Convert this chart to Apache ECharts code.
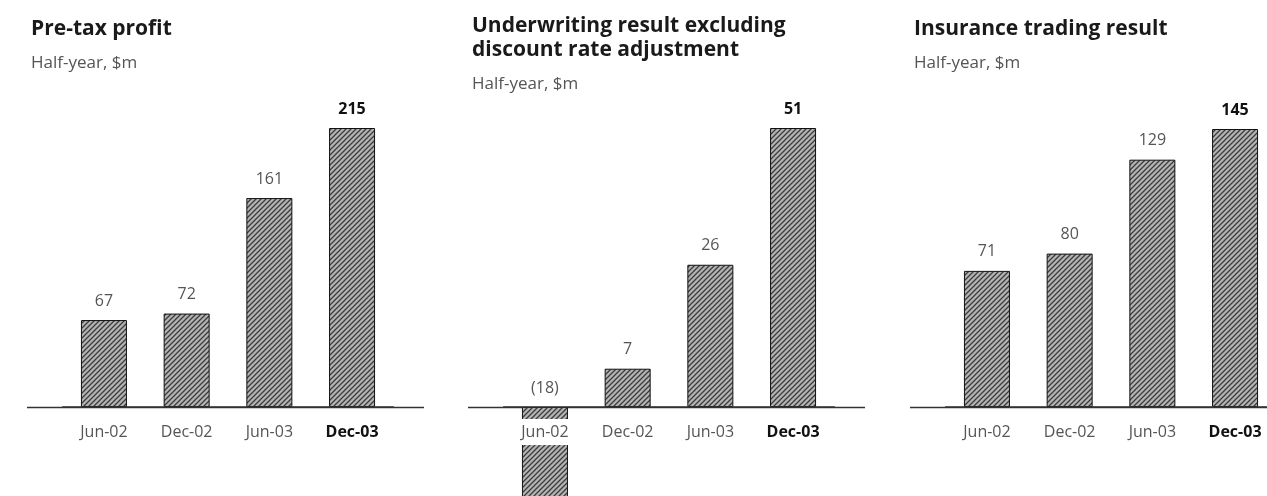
<!DOCTYPE html>
<html>
<head>
<meta charset="utf-8">
<script src="https://cdn.jsdelivr.net/npm/echarts/dist/echarts.min.js"></script>
<style>
  html, body { margin: 0; padding: 0; background: #fff; }
  #chart { width: 1267px; height: 496px; }
</style>
</head>
<body>
<div id="chart"></div>
<script>
// Half-year periods and results ($m)
const periods = ['Jun-02', 'Dec-02', 'Jun-03', 'Dec-03'];
const preTaxProfit = [67, 72, 161, 215];
const underwritingResult = [-18, 7, 26, 51];
const insuranceTradingResult = [71, 80, 129, 145];
const highlightPeriod = 'Dec-03';

const panelTitles = [
  'Pre-tax profit',
  'Underwriting result excluding\ndiscount rate adjustment',
  'Insurance trading result'
];
const panelSubtitle = 'Half-year, $m';
const panelValues = [preTaxProfit, underwritingResult, insuranceTradingResult];

// Panel layout: left edge of the baseline, top of the tallest bar, baseline y
const layout = [
  { x: 27,  top: 128, zeroY: 407, titleTop: 17 },
  { x: 468, top: 128, zeroY: 407, titleTop: 14 },
  { x: 910, top: 129, zeroY: 407, titleTop: 17 }
];
const baseLen = 397;
const bandOffset = 35.6;
const bandWidth = 330.8;
const FONT = '"Open Sans", "Noto Sans", sans-serif';

// Grey hatched fill for the bars
function hatchPattern() {
  const c = document.createElement('canvas');
  c.width = 5; c.height = 5;
  const g = c.getContext('2d');
  g.fillStyle = '#b4b4b4';
  g.fillRect(0, 0, 5, 5);
  g.strokeStyle = '#3c3c3c';
  g.lineWidth = 1.3;
  g.beginPath();
  g.moveTo(0, 5); g.lineTo(5, 0);
  g.moveTo(-1, 1); g.lineTo(1, -1);
  g.moveTo(4, 6); g.lineTo(6, 4);
  g.stroke();
  return c;
}
const pattern = { image: hatchPattern(), repeat: 'repeat' };

const fmtValue = v => (v < 0 ? '(' + (-v) + ')' : String(v));

const titles = [], grids = [], xAxes = [], yAxes = [], series = [];
panelValues.forEach((vals, i) => {
  const L = layout[i];
  const vMax = Math.max(...vals);
  const vMin = Math.min(0, ...vals);
  const pxPerUnit = (L.zeroY - L.top) / vMax;
  const height = (vMax - vMin) * pxPerUnit;

  titles.push({
    text: panelTitles[i],
    subtext: panelSubtitle,
    left: L.x + 4,
    top: L.titleTop,
    padding: 0,
    itemGap: 11,
    textStyle: { fontFamily: FONT, fontSize: 21, fontWeight: 'bold', color: '#1a1a1a', lineHeight: 24 },
    subtextStyle: { fontFamily: FONT, fontSize: 17, color: '#555', lineHeight: 22 }
  });

  grids.push({
    left: L.x + bandOffset,
    width: bandWidth,
    top: L.top,
    height: height,
    containLabel: false,
    outerBoundsMode: 'none'
  });

  // Category axis sits on the zero level (lifted above the grid bottom when values go negative)
  xAxes.push({
    type: 'category',
    gridIndex: i,
    data: periods,
    position: 'bottom',
    offset: vMin * pxPerUnit,
    zlevel: 1,
    z: 10,
    axisTick: { show: false },
    axisLine: { show: true, onZero: false, lineStyle: { color: '#333', width: 1.5 } },
    axisLabel: {
      interval: 0,
      margin: 12,
      fontFamily: FONT,
      fontSize: 16,
      color: '#555',
      backgroundColor: '#fff',
      padding: [5, 2, 5, 2],
      formatter: v => (v === highlightPeriod ? '{b|' + v + '}' : v),
      rich: { b: { fontFamily: FONT, fontSize: 16, fontWeight: 'bold', color: '#111' } }
    },
    splitLine: { show: false }
  });

  yAxes.push({ type: 'value', gridIndex: i, min: vMin, max: vMax, show: false, splitLine: { show: false } });

  series.push({
    type: 'bar',
    xAxisIndex: i,
    yAxisIndex: i,
    barWidth: 46,
    clip: false,
    z: 2,
    itemStyle: { color: pattern, borderColor: '#111', borderWidth: 1 },
    label: {
      show: true,
      position: 'top',
      distance: 11,
      fontFamily: FONT,
      fontSize: 16,
      color: '#555',
      formatter: p => fmtValue(p.value)
    },
    data: vals.map((v, k) => periods[k] === highlightPeriod
      ? { value: v, label: { fontWeight: 'bold', color: '#111' } }
      : v)
  });
});

const chart = echarts.init(document.getElementById('chart'), null, { renderer: 'canvas' });
chart.setOption({
  animation: false,
  backgroundColor: '#fff',
  title: titles,
  grid: grids,
  xAxis: xAxes,
  yAxis: yAxes,
  series: series
});

// Extend each baseline across the full panel width at the zero level
const baselines = layout.map((L, i) => {
  const y = Math.round(chart.convertToPixel({ yAxisIndex: i }, 0)) + 0.5;
  return {
    type: 'line',
    z: 1,
    shape: { x1: L.x, y1: y, x2: L.x + baseLen, y2: y },
    style: { stroke: '#333', lineWidth: 1.5 }
  };
});
chart.setOption({ graphic: baselines });
</script>
</body>
</html>
